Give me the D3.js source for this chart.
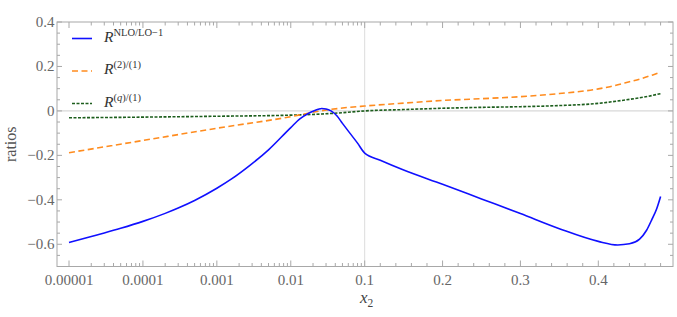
<!DOCTYPE html>
<html>
<head>
<meta charset="utf-8">
<script src="https://cdn.jsdelivr.net/npm/d3@7"></script>
<style>
  body { margin: 0; background: #fff; }
  text { font-family: "Liberation Serif", "DejaVu Serif", serif; }
</style>
</head>
<body>
<div id="chart"></div>
<script>
// Data
const blueX = [1e-5, 2e-5, 3e-5, 5e-5, 1e-4, 2e-4, 3e-4, 5e-4, 1e-3, 1.6e-3, 2.8e-3, 5e-3, 0.01, 0.0134, 0.017, 0.02, 0.0235, 0.0262, 0.03, 0.035, 0.042, 0.05, 0.063, 0.08, 0.1,
  0.12, 0.15, 0.2, 0.25, 0.3, 0.35, 0.4, 0.425, 0.44, 0.453, 0.462, 0.469, 0.475, 0.48];
const blueY = [-0.592, -0.565, -0.549, -0.528, -0.497, -0.461, -0.437, -0.403, -0.348, -0.305, -0.245, -0.175, -0.075, -0.035, -0.013, -0.002, 0.007, 0.011, 0.009, 0.0, -0.022, -0.056, -0.1, -0.145, -0.19,
  -0.222, -0.266, -0.33, -0.396, -0.462, -0.53, -0.587, -0.603, -0.598, -0.577, -0.537, -0.487, -0.44, -0.385];

const orangeX = [1e-5, 1e-4, 1e-3, 1e-2, 0.0262, 0.05, 0.1, 0.15, 0.2, 0.25, 0.3, 0.35, 0.4, 0.415, 0.44, 0.453, 0.47, 0.48];
const orangeY = [-0.188, -0.133, -0.078, -0.026, 0.001, 0.013, 0.022, 0.035, 0.047, 0.055, 0.064, 0.078, 0.099, 0.109, 0.131, 0.143, 0.162, 0.174];

const greenX = [1e-5, 1e-4, 1e-3, 1e-2, 0.0262, 0.05, 0.1, 0.15, 0.2, 0.25, 0.3, 0.35, 0.4, 0.415, 0.44, 0.453, 0.47, 0.48];
const greenY = [-0.031, -0.028, -0.024, -0.019, -0.014, -0.008, 0, 0.006, 0.012, 0.016, 0.019, 0.024, 0.034, 0.04, 0.052, 0.059, 0.07, 0.078];

const seriesNames = ['NLO/LO−1', '(2)/(1)', '(q)/(1)'];

const xLogTicks = [1e-5, 1e-4, 1e-3, 1e-2];
const xLogLabels = ['0.00001', '0.0001', '0.001', '0.01'];
const xLinTicks = [0.1, 0.2, 0.3, 0.4];
const xLinLabels = ['0.1', '0.2', '0.3', '0.4'];
const yTicks = [-0.6, -0.4, -0.2, 0, 0.2, 0.4];
const yLabels = ['−0.6', '−0.4', '−0.2', '0', '0.2', '0.4'];

// Dimensions
const W = 677, H = 317;
const fl = 57, fr = 673, ft = 22, fb = 266.5;
const frameColor = '#a8a8a8', labelColor = '#666';

// Scales: log up to 0.1, linear afterwards
const xLog = d3.scaleLog().domain([1e-5, 0.1]).range([69, 364.7]);
const xLin = d3.scaleLinear().domain([0.1, 0.4]).range([364.7, 598.3]);
const x = v => v <= 0.1 ? xLog(v) : xLin(v);
const y = d3.scaleLinear().domain([-0.7, 0.4]).range([fb, ft]);

const svg = d3.select('#chart').append('svg')
  .attr('width', W).attr('height', H);

// Grid lines
svg.append('line')
  .attr('x1', fl).attr('x2', fr).attr('y1', y(0)).attr('y2', y(0))
  .attr('stroke', '#cfcfcf').attr('stroke-width', 1);
svg.append('line')
  .attr('x1', x(0.1)).attr('x2', x(0.1)).attr('y1', ft).attr('y2', fb)
  .attr('stroke', '#dcdcdc').attr('stroke-width', 1);

// Ticks
const xMinor = [];
xLogTicks.forEach(d => d3.range(2, 10).forEach(k => xMinor.push(k * d)));
d3.range(0.12, 0.49, 0.02).forEach(v => { if (Math.abs(v * 10 - Math.round(v * 10)) > 1e-6) xMinor.push(v); });
const xMajor = xLogTicks.concat(xLinTicks);
const yMinor = d3.range(-0.65, 0.4, 0.05).filter(v => Math.abs(v * 5 - Math.round(v * 5)) > 1e-6);

const ticks = svg.append('g').attr('stroke', frameColor).attr('stroke-width', 1);
[[xMajor, 6], [xMinor, 3.5]].forEach(([vals, len]) => {
  vals.forEach(v => {
    const px = x(v);
    ticks.append('line').attr('x1', px).attr('x2', px).attr('y1', fb).attr('y2', fb - len);
    ticks.append('line').attr('x1', px).attr('x2', px).attr('y1', ft).attr('y2', ft + len);
  });
});
[[yTicks, 5], [yMinor, 3]].forEach(([vals, len]) => {
  vals.forEach(v => {
    const py = y(v);
    ticks.append('line').attr('x1', fl).attr('x2', fl + len).attr('y1', py).attr('y2', py);
    ticks.append('line').attr('x1', fr).attr('x2', fr - len).attr('y1', py).attr('y2', py);
  });
});

// Frame
svg.append('rect')
  .attr('x', fl).attr('y', ft).attr('width', fr - fl).attr('height', fb - ft)
  .attr('fill', 'none').attr('stroke', frameColor).attr('stroke-width', 1);

// Tick labels
const xLabelData = xLogTicks.map((v, i) => [v, xLogLabels[i]])
  .concat(xLinTicks.map((v, i) => [v, xLinLabels[i]]));
svg.selectAll('.xt').data(xLabelData).enter().append('text')
  .attr('class', 'xt')
  .attr('x', d => x(d[0])).attr('y', 284.5)
  .attr('text-anchor', 'middle')
  .attr('font-size', 15).attr('fill', labelColor)
  .text(d => d[1]);
svg.selectAll('.yt').data(yTicks).enter().append('text')
  .attr('class', 'yt')
  .attr('x', fl - 2.5).attr('y', d => y(d) + 5)
  .attr('text-anchor', 'end')
  .attr('font-size', 15).attr('fill', labelColor)
  .text((d, i) => yLabels[i]);

// Axis titles
const xt = svg.append('text')
  .attr('x', 360).attr('y', 303)
  .attr('font-size', 17).attr('fill', '#444');
xt.append('tspan').attr('font-style', 'italic').text('x');
xt.append('tspan').attr('font-size', 11.5).attr('dy', 3.5).text('2');
svg.append('text')
  .attr('transform', `translate(16,${(ft + fb) / 2}) rotate(-90)`)
  .attr('text-anchor', 'middle')
  .attr('font-size', 16).attr('fill', '#555')
  .text('ratios');

// Curves
const series = [
  { xs: blueX, ys: blueY, color: '#1010ff', dash: null, width: 1.6 },
  { xs: orangeX, ys: orangeY, color: '#ff8c1f', dash: '6,3.5', width: 1.6 },
  { xs: greenX, ys: greenY, color: '#1d5e1d', dash: '3,1.5', width: 1.6 }
];
const line = d3.line()
  .x(d => x(d[0])).y(d => y(d[1]))
  .curve(d3.curveMonotoneX);
series.slice().reverse().forEach(s => {
  svg.append('path')
    .datum(s.xs.map((v, i) => [v, s.ys[i]]))
    .attr('d', line)
    .attr('fill', 'none')
    .attr('stroke', s.color)
    .attr('stroke-width', s.width)
    .attr('stroke-dasharray', s.dash);
});

// Legend
const legY = [38.5, 71, 103.5];
series.forEach((s, i) => {
  svg.append('line')
    .attr('x1', 72).attr('x2', 92).attr('y1', legY[i]).attr('y2', legY[i])
    .attr('stroke', s.color).attr('stroke-width', s.width)
    .attr('stroke-dasharray', s.dash);
  const t = svg.append('text')
    .attr('x', 104).attr('y', legY[i] + 3)
    .attr('font-size', 15.5).attr('fill', '#333');
  t.append('tspan').attr('font-style', 'italic').text('R');
  const name = seriesNames[i];
  if (name.startsWith('(q)')) {
    t.append('tspan').attr('dy', -6).attr('font-size', 10.5).text('(');
    t.append('tspan').attr('font-size', 10.5).attr('font-style', 'italic').text('q');
    t.append('tspan').attr('font-size', 10.5).text(name.slice(2));
  } else {
    t.append('tspan').attr('dy', -6).attr('font-size', 10.5).text(name);
  }
});
</script>
</body>
</html>
